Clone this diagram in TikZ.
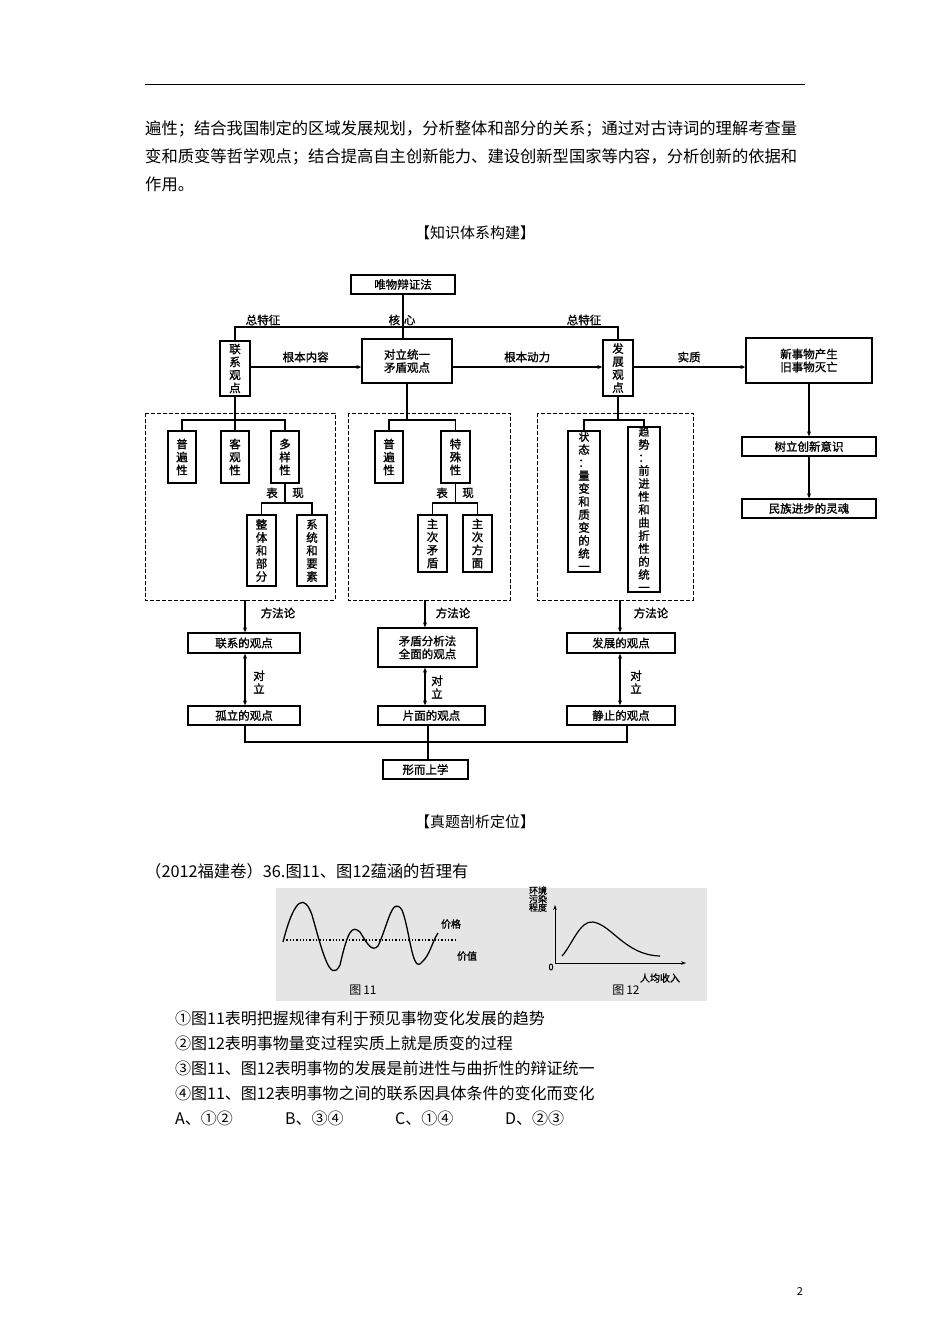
\documentclass[tikz,border=0pt]{standalone}
\usepackage{fontspec}
\setmainfont{Noto Sans CJK SC}
\newfontfamily\bk{Noto Sans CJK SC}[FakeBold=1.2]
\usetikzlibrary{arrows.meta}
\newcommand\tallf{\bk\fontsize{10.5}{11.7}\selectfont}
\newcommand\BX[6]{\node[box,minimum width={#3-#1},minimum height={#4-#2}] (#5) at ({(#1+#3)/2},{(#2+#4)/2}) {#6};}
\begin{document}
\begin{tikzpicture}[x=1pt,y=-1pt,
  box/.style={draw,line width=1.3pt,inner sep=0pt,align=center,font=\bk\fontsize{11.5}{13}\selectfont},
  lbl/.style={font=\bk\fontsize{11.5}{13}\selectfont,inner sep=1pt},
  dbox/.style={draw,line width=1pt,dash pattern=on 4pt off 2pt},
  ln/.style={line width=1.3pt},
  ar/.style={line width=1.3pt,-{Stealth[length=5pt,width=4pt]}},
  dar/.style={line width=1.3pt,{Stealth[length=5pt,width=4pt]}-{Stealth[length=5pt,width=4pt]}},
  body/.style={anchor=west,inner sep=0pt,font=\fontsize{16.3}{18}\selectfont},
  opt/.style={anchor=west,inner sep=0pt,font=\fontsize{16}{18}\selectfont}]
\useasboundingbox[fill=white] (0,0) rectangle (950,1344);
\draw[line width=0.8pt] (145,84) -- (805,84);
\node[body] at (145,129) {遍性；结合我国制定的区域发展规划，分析整体和部分的关系；通过对古诗词的理解考查量};
\node[body] at (145,157) {变和质变等哲学观点；结合提高自主创新能力、建设创新型国家等内容，分析创新的依据和};
\node[body] at (145,184) {作用。};
\node[font=\fontsize{15}{16}\selectfont] at (475,233) {【知识体系构建】};
% top
\BX{351}{275}{455}{294}{wb}{唯物辩证法}
\BX{220}{341}{250}{396}{lx}{联\\系\\观\\点}
\BX{362}{339}{452}{383}{dl}{对立统一\\矛盾观点}
\BX{603}{340}{633}{396}{fz}{发\\展\\观\\点}
\BX{746}{338}{872}{383}{xsw}{新事物产生\\旧事物灭亡}
\BX{742}{437}{876}{456}{cx}{树立创新意识}
\BX{742}{499}{876}{518}{mz}{民族进步的灵魂}
\coordinate (tl) at (235,327); \coordinate (tr) at (618,327);
\draw[ln] (lx.north) -- (tl) -- (tr) -- (fz.north);
\draw[ln] (wb.south) -- (wb.south|-dl.north);
\node[lbl] at (263,320) {总特征};
\node[lbl] at (402,320) {核\,\,心};
\node[lbl] at (584,320) {总特征};
\coordinate (r1) at (250,367); \coordinate (r2) at (452,367); \coordinate (r3) at (633,367);
\draw[ar] (r1) -- node[lbl,above=3pt]{根本内容} (r1-|dl.west);
\draw[ar] (r2) -- node[lbl,above=3pt]{根本动力} (r2-|fz.west);
\draw[ar] (r3) -- node[lbl,above=3pt]{实质} (r3-|xsw.west);
\draw[ar] (xsw.south) -- (cx.north);
\draw[ar] (cx.south) -- (mz.north);
% dashed
\draw[dbox] (145,413) rectangle (335,600);
\draw[dbox] (348,413) rectangle (510,600);
\draw[dbox] (537,413) rectangle (693,600);
% left group
\BX{168}{431}{196}{483}{a1}{普\\遍\\性}
\BX{221}{431}{249}{483}{a2}{客\\观\\性}
\BX{271}{431}{299}{483}{a3}{多\\样\\性}
\BX{247}{515}{276}{586}{a4}{整\\体\\和\\部\\分}
\BX{297}{515}{327}{586}{a5}{系\\统\\和\\要\\素}
\coordinate (ja) at (235,420);
\draw[ln] (lx.south) -- (ja);
\draw[ln] (a1.north) |- (ja) -| (a3.north);
\draw[ln] (a2.north) -- (ja);
\coordinate (jb) at (285,503);
\draw[ln] (a3.south) -- (jb);
\draw[ln] (a4.north) |- (jb) -| (a5.north);
\node[lbl] at (272,493) {表}; \node[lbl] at (298,493) {现};
% middle group
\BX{375}{431}{403}{483}{b1}{普\\遍\\性}
\BX{441}{431}{470}{483}{b2}{特\\殊\\性}
\BX{418}{515}{447}{572}{b3}{主\\次\\矛\\盾}
\BX{463}{515}{492}{572}{b4}{主\\次\\方\\面}
\coordinate (jc) at (407,420);
\draw[ln] (dl.south) -- (jc);
\draw[ln] (b1.north) |- (jc) -| (b2.north);
\coordinate (jd) at (455.5,503);
\draw[ln] (b2.south) -- (jd);
\draw[ln] (b3.north) |- (jd) -| (b4.north);
\node[lbl] at (442,493) {表}; \node[lbl] at (468,493) {现};
% right group
\BX{568}{431}{600}{572}{c1}{\tallf 状\\态\\：\\量\\变\\和\\质\\变\\的\\统\\一}
\BX{628}{431}{660}{588}{c2}{\tallf 趋\\势\\：\\前\\进\\性\\和\\曲\\折\\性\\的\\统\\一}
\coordinate (je) at (618,420);
\draw[ln] (fz.south) -- (je);
\draw[ln] (c1.north) |- (je) -| (c2.north);
% bottom
\BX{188}{633}{300}{653}{d1}{联系的观点}
\BX{378}{628}{477}{667}{d2}{矛盾分析法\\全面的观点}
\BX{567}{633}{675}{653}{d3}{发展的观点}
\BX{188}{706}{300}{725}{e1}{孤立的观点}
\BX{378}{706}{485}{725}{e2}{片面的观点}
\BX{567}{706}{675}{725}{e3}{静止的观点}
\BX{383}{760}{468}{779}{mx}{形而上学}
\coordinate (m1) at (245,600); \coordinate (m2) at (425,600); \coordinate (m3) at (620,600);
\draw[ar] (m1) -- (d1.north-|m1); \node[lbl] at (278,613) {方法论};
\draw[ar] (m2) -- (d2.north-|m2); \node[lbl] at (453,613) {方法论};
\draw[ar] (m3) -- (d3.north-|m3); \node[lbl] at (651,613) {方法论};
\draw[dar] (d1.south-|m1) -- (e1.north-|m1); \node[lbl,align=center] at (259,682) {对\\立};
\draw[dar] (d2.south-|m2) -- (e2.north-|m2); \node[lbl,align=center] at (437,687) {对\\立};
\draw[dar] (d3.south-|m3) -- (e3.north-|m3); \node[lbl,align=center] at (636,682) {对\\立};
\coordinate (h1) at (245,742); \coordinate (h3) at (627,742); \coordinate (h2) at (428,742);
\draw[ln] (e1.south-|h1) -- (h1) -- (h3) -- (e3.south-|h3);
\draw[ln] (e2.south-|h2) -- (mx.north-|h2);
\node[font=\fontsize{15}{16}\selectfont] at (475,822) {【真题剖析定位】};
\node[body] at (145,871) {（2012福建卷）36.图11、图12蕴涵的哲理有};
% figure
\fill[black!10] (276,888) rectangle (707,1001);
\draw[line width=1.3pt] (283,942) .. controls (295,895) and (305,895) .. (312,915) .. controls (322,950) and (330,985) .. (340,965)
 .. controls (348,930) and (352,925) .. (360,932) .. controls (368,945) and (372,952) .. (378,946)
 .. controls (388,925) and (392,895) .. (402,910) .. controls (410,930) and (412,975) .. (422,962) .. controls (430,955) and (432,942) .. (438,933);
\draw[line width=1.3pt,dotted] (283,940) -- (455,940);
\node[font=\bk\fontsize{10}{10}\selectfont] at (451,924) {价格};
\node[font=\bk\fontsize{10}{10}\selectfont] at (467,956) {价值};
\node[font=\fontsize{12}{12}\selectfont] at (363,990) {图\,11};
\draw[line width=1pt,-{Stealth[length=5pt]}] (555,963) -- (555,905);
\draw[line width=1pt,-{Stealth[length=5pt]}] (555,963) -- (686,963);
\draw[line width=1.2pt] (562,956) .. controls (572,945) and (580,920) .. (593,922) .. controls (612,925) and (625,955) .. (660,956);
\node[font=\bk\fontsize{9}{8.5}\selectfont,align=left] at (538,899) {环境\\污染\\程度};
\node[font=\bk\fontsize{9}{9}\selectfont] at (551,967) {0};
\node[font=\bk\fontsize{10}{10}\selectfont] at (660,978) {人均收入};
\node[font=\fontsize{12}{12}\selectfont] at (626,990) {图\,12};
% options
\node[opt] at (175,1018) {①图11表明把握规律有利于预见事物变化发展的趋势};
\node[opt] at (175,1043) {②图12表明事物量变过程实质上就是质变的过程};
\node[opt] at (175,1068) {③图11、图12表明事物的发展是前进性与曲折性的辩证统一};
\node[opt] at (175,1093) {④图11、图12表明事物之间的联系因具体条件的变化而变化};
\node[opt] at (175,1118) {A、①②};
\node[opt] at (285,1118) {B、③④};
\node[opt] at (395,1118) {C、①④};
\node[opt] at (505,1118) {D、②③};
\node[font=\fontsize{11}{12}\selectfont] at (800,1291) {2};
\end{tikzpicture}
\end{document}
